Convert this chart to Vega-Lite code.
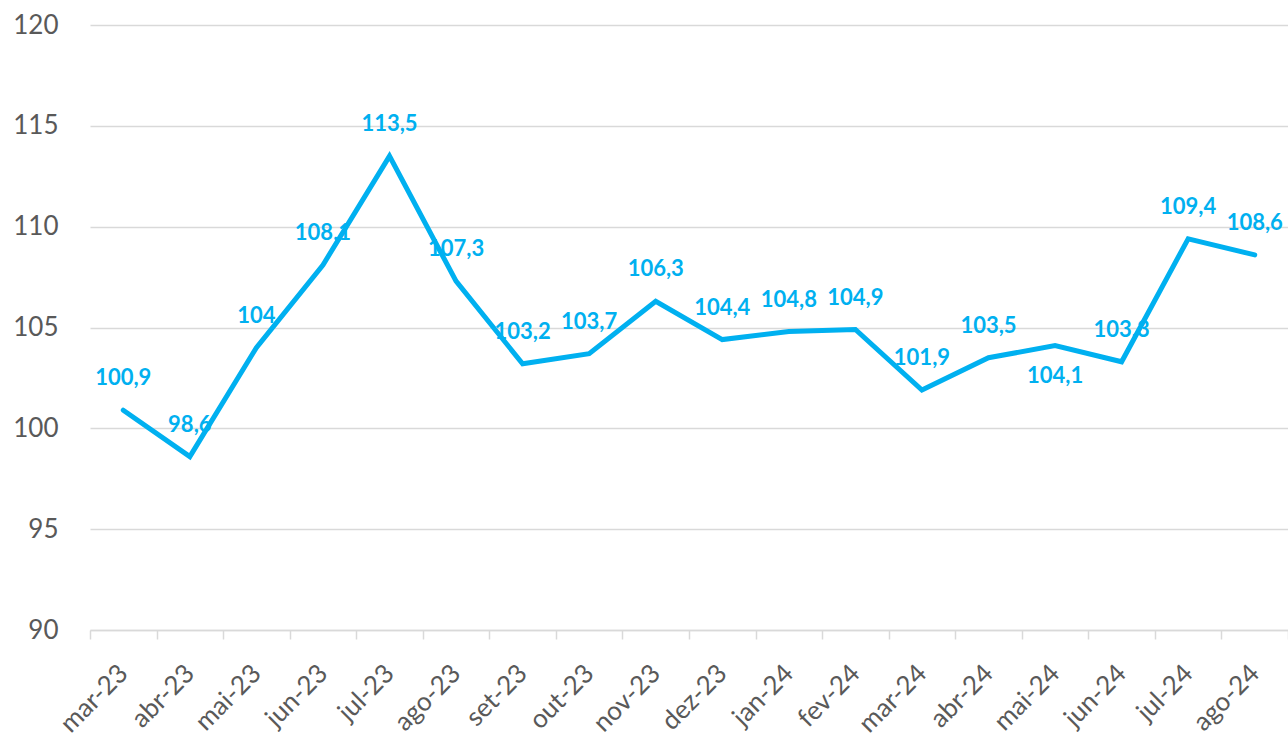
{
  "$schema": "https://vega.github.io/schema/vega-lite/v6.json",
  "width": 1198,
  "height": 605,
  "autosize": "none",
  "padding": {"left": 90, "top": 25, "right": 0, "bottom": 107},
  "config": {
    "view": {"stroke": null},
    "font": "Lato",
    "locale": {"number": {"decimal": ",", "thousands": ".", "grouping": [3], "currency": ["R$", ""]}}
  },
  "data": {
    "values": [
      {"mes": "mar-23", "valor": 100.9},
      {"mes": "abr-23", "valor": 98.6},
      {"mes": "mai-23", "valor": 104},
      {"mes": "jun-23", "valor": 108.1},
      {"mes": "jul-23", "valor": 113.5},
      {"mes": "ago-23", "valor": 107.3},
      {"mes": "set-23", "valor": 103.2},
      {"mes": "out-23", "valor": 103.7},
      {"mes": "nov-23", "valor": 106.3},
      {"mes": "dez-23", "valor": 104.4},
      {"mes": "jan-24", "valor": 104.8},
      {"mes": "fev-24", "valor": 104.9},
      {"mes": "mar-24", "valor": 101.9},
      {"mes": "abr-24", "valor": 103.5},
      {"mes": "mai-24", "valor": 104.1},
      {"mes": "jun-24", "valor": 103.3},
      {"mes": "jul-24", "valor": 109.4},
      {"mes": "ago-24", "valor": 108.6}
    ]
  },
  "encoding": {
    "x": {
      "field": "mes", "type": "ordinal", "sort": null,
      "scale": {"type": "band", "paddingInner": 0, "paddingOuter": 0},
      "axis": {
        "title": null, "labelAngle": -45, "labelAlign": "right", "labelBaseline": "middle",
        "labelFontSize": 26, "labelColor": "#595959", "labelPadding": 30,
        "tickBand": "extent", "tickSize": 9, "tickColor": "#d9d9d9", "tickWidth": 1.5,
        "domainColor": "#d9d9d9", "domainWidth": 1.5, "grid": false
      }
    },
    "y": {
      "field": "valor", "type": "quantitative",
      "scale": {"domain": [90, 120], "nice": false, "zero": false},
      "axis": {
        "title": null, "values": [90, 95, 100, 105, 110, 115, 120],
        "labelFontSize": 26, "labelColor": "#595959", "labelPadding": 32,
        "ticks": false, "domain": false, "gridColor": "#d9d9d9", "gridWidth": 1.5
      }
    }
  },
  "layer": [
    {
      "mark": {"type": "line", "color": "#00B0F0", "strokeWidth": 5, "strokeCap": "round", "strokeJoin": "miter"}
    },
    {
      "transform": [{"filter": "datum.mes != 'mai-24'"}],
      "mark": {"type": "text", "color": "#00B0F0", "fontWeight": "bold", "fontSize": 22, "dy": -32},
      "encoding": {"text": {"field": "valor", "type": "quantitative", "format": ".4~r"}}
    },
    {
      "transform": [{"filter": "datum.mes == 'mai-24'"}],
      "mark": {"type": "text", "color": "#00B0F0", "fontWeight": "bold", "fontSize": 22, "dy": 30},
      "encoding": {"text": {"field": "valor", "type": "quantitative", "format": ".4~r"}}
    }
  ]
}
